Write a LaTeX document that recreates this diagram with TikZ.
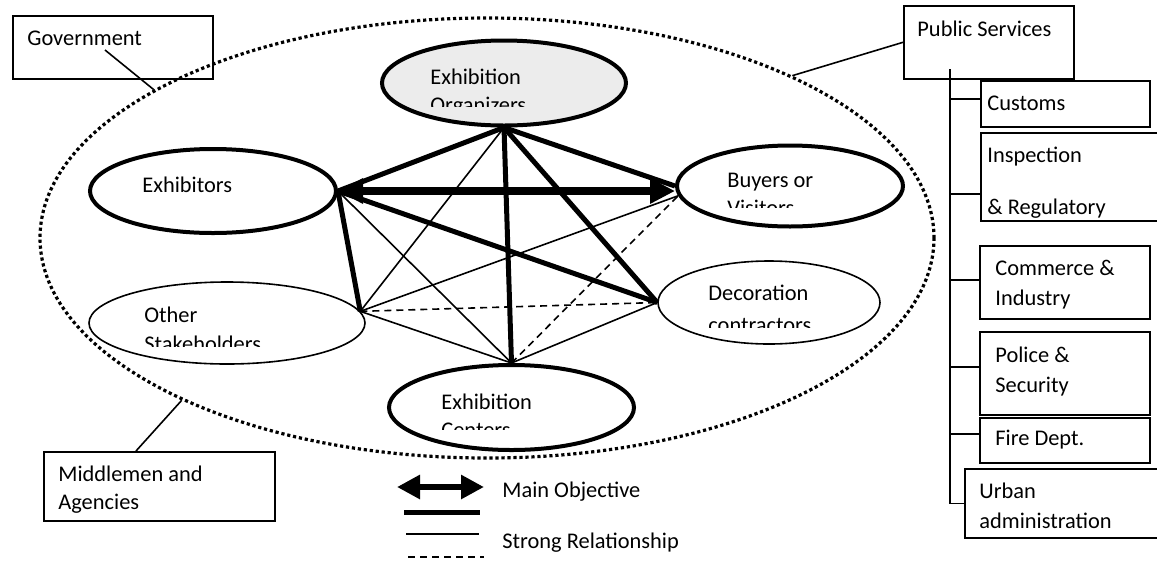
\documentclass[tikz,border=0pt]{standalone}
\usepackage{fontspec}
\setmainfont{Carlito}
\usetikzlibrary{arrows.meta}
\usetikzlibrary{shapes.geometric}

\begin{document}
\begin{tikzpicture}[x=0.5pt, y=-0.5pt]

	\tikzset{myheavyarrow/.style={{Triangle[length=12.5pt,width=12pt]}-{Triangle[length=12.5pt,width=12pt]}, black, line width=4pt}}
	\tikzset{mythickline/.style={black, line width=2.5pt}}
	\tikzset{mythinline/.style={black, line width=0.8pt}}
	\tikzset{mydashline/.style={black, line width=0.8pt, dash pattern=on 3.5pt off 2.5pt}}
	\tikzset{mybigoval/.style={draw, ellipse, line width=2pt, inner sep=0pt}}
	\tikzset{mysmalloval/.style={draw, ellipse, line width=0.8pt, inner sep=0pt}}
	\tikzset{mybox/.style={draw, rectangle, line width=0.8pt, inner sep=0pt, anchor=north west}}
	\tikzset{mylabel/.style={anchor=base west, inner sep=0pt, font=\fontsize{11.2}{13.4}\selectfont}}

	\clip (0,0) rectangle (1157,563);

	% outer field
	\node[draw, ellipse, line width=1.6pt, dash pattern=on 1.6pt off 1.4pt, minimum width=447pt, minimum height=220pt] (field) at (487,238) {};

	% stakeholders
	\node[mybigoval, fill=gray!15, minimum width=122pt, minimum height=42.5pt] (org) at (504,83) {};
	\node[mybigoval, minimum width=123pt, minimum height=42pt] (exh) at (213,191) {};
	\node[mybigoval, minimum width=113pt, minimum height=40.5pt] (buy) at (790,186) {};
	\node[mysmalloval, minimum width=138pt, minimum height=41pt] (oth) at (227,323) {};
	\node[mysmalloval, minimum width=111pt, minimum height=41.5pt] (dec) at (769,302.5) {};
	\node[mybigoval, minimum width=122.5pt, minimum height=42.5pt] (cen) at (511.5,407.5) {};

	% relations
	\draw[mythickline] (org.south) -- (exh.east);
	\draw[mythickline] (org.south) -- (buy.west);
	\draw[mythickline] (org.south) -- (cen.north);
	\draw[mythickline] (org.south) -- (dec.west);
	\draw[mythickline] (exh.east) -- (dec.west);
	\draw[mythickline] (exh.east) -- (oth.5);
	\draw[mythinline] (org.south) -- (oth.5);
	\draw[mythinline] (exh.east) -- (cen.north);
	\draw[mythinline] (oth.5) -- (buy.185);
	\draw[mythinline] (oth.5) -- (cen.north);
	\draw[mythinline] (cen.north) -- (dec.west);
	\draw[mydashline] (oth.5) -- (dec.west);
	\draw[mydashline] (cen.north) -- (buy.185);
	\draw[myheavyarrow] (exh.east) -- (exh.east -| buy.west);

	\node[mylabel] (orgtxt) at (430,84) {Exhibition};
	\begin{scope}
		\clip (420,90) rectangle (620,106);
		\node[mylabel] (orgtxtb) at (430,112) {Organizers};
	\end{scope}
	\node[mylabel] (exhtxt) at (142,192) {Exhibitors};
	\node[mylabel] (buytxt) at (727,187) {Buyers or};
	\begin{scope}
		\clip (700,195) rectangle (900,207);
		\node[mylabel] (buytxtb) at (727,215) {Visitors};
	\end{scope}
	\node[mylabel] (dectxt) at (708,300) {Decoration};
	\begin{scope}
		\clip (700,310) rectangle (880,327);
		\node[mylabel] (dectxtb) at (708,332) {contractors};
	\end{scope}
	\node[mylabel] (othtxt) at (144,322) {Other};
	\begin{scope}
		\clip (130,330) rectangle (360,346);
		\node[mylabel] (othtxtb) at (144,351) {Stakeholders};
	\end{scope}
	\node[mylabel] (centxt) at (441,409) {Exhibition};
	\begin{scope}
		\clip (430,416) rectangle (620,429);
		\node[mylabel] (centxtb) at (441,437) {Centers};
	\end{scope}

	% boxes round the field
	\node[mybox, minimum width=100pt, minimum height=31.5pt] (gov) at (12,15) {};
	\node[mylabel] at (27,45) {Government};
	\node[mybox, minimum width=115.5pt, minimum height=34.5pt] (mid) at (43,451) {};
	\node[mylabel] at (58,481) {Middlemen and};
	\node[mylabel] at (58,509) {Agencies};
	\node[mybox, minimum width=85pt, minimum height=36.5pt] (pub) at (903,5) {};
	\node[mylabel] at (917,36) {Public Services};

	\coordinate (govpt) at (105,50);
	\draw[mythinline] (govpt) -- (field.156);
	\draw[mythinline] (pub.west) -- (field.28);
	\draw[mythinline] ([xshift=46.5pt]mid.north west) -- (field.208);

	% public services
	\node[mybox, minimum width=84.5pt, minimum height=23pt] (cust) at (980,80) {};
	\node[mylabel] at (987,110) {Customs};
	\node[mybox, minimum width=95pt, minimum height=44pt] (insp) at (980,132) {};
	\node[mylabel] at (987,162) {Inspection};
	\node[mylabel] at (987,214) {\& Regulatory};
	\node[mybox, minimum width=85pt, minimum height=36.5pt] (comm) at (979,245) {};
	\node[mylabel] at (995,275) {Commerce \&};
	\node[mylabel] at (995,305) {Industry};
	\node[mybox, minimum width=85pt, minimum height=41.5pt] (pol) at (979,331) {};
	\node[mylabel] at (995,362) {Police \&};
	\node[mylabel] at (995,392) {Security};
	\node[mybox, minimum width=85pt, minimum height=22.5pt] (fire) at (979,417) {};
	\node[mylabel] at (995,445) {Fire Dept.};
	\node[mybox, minimum width=105pt, minimum height=34.5pt] (urb) at (964,468) {};
	\node[mylabel] at (979,498) {Urban};
	\node[mylabel] at (979,528) {administration};

	\coordinate (trunk) at ([xshift=23.5pt,yshift=5.5pt]pub.south west);
	\foreach \bx/\dy in {cust/2.5, insp/-8.5, comm/1.25, pol/3.25, fire/3.25, urb/0}
		\draw[mythinline] ([yshift=\dy pt]\bx.west) -| (trunk);

	% legend
	\coordinate (lga) at (397,487);
	\coordinate (lgb) at (484,487);
	\coordinate (lgc) at (404,512);
	\coordinate (lgd) at (480,512);
	\coordinate (lge) at (406,534);
	\coordinate (lgf) at (479,534);
	\coordinate (lgg) at (408,557);
	\coordinate (lgh) at (484,557);
	\draw[{Triangle[length=11.5pt,width=11.5pt]}-{Triangle[length=11.5pt,width=11.5pt]}, line width=3pt] (lga) -- (lgb);
	\draw[mythickline] (lgc) -- (lgd);
	\draw[mythinline] (lge) -- (lgf);
	\draw[mydashline] (lgg) -- (lgh);
	\node[mylabel] at (502,497) {Main Objective};
	\node[mylabel] at (502,548) {Strong Relationship};

\end{tikzpicture}
\end{document}
